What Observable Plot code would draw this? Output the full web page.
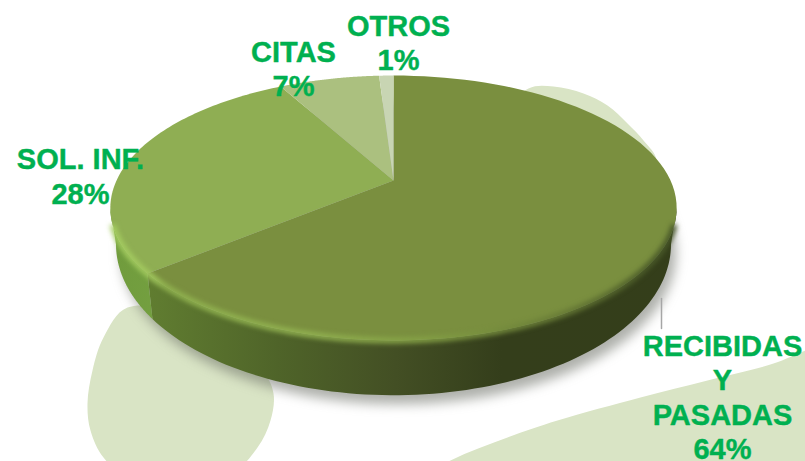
<!DOCTYPE html>
<html>
<head>
<meta charset="utf-8">
<script src="https://cdn.jsdelivr.net/npm/d3@7"></script>
<script src="https://cdn.jsdelivr.net/npm/@observablehq/plot@0.6"></script>
<style>
html,body{margin:0;padding:0;background:#fff}
svg{display:block}
</style>
</head>
<body>
<div id="chart"></div>
<script>
// Data
const categories = ["RECIBIDAS\nY\nPASADAS", "SOL. INF.", "CITAS", "OTROS"];
const shares = [64, 28, 7, 1];

// Styles
const faceColors = ["#7a8f3f", "#8fae53", "#abc07f", "#c8d5b3"];
const labelColor = "#00b050";
const blobColor = "#d9e4c5";

// Layout
const W = 805, H = 461;
const labelX = [722, 80, 293, 398];
const labelY = [396, 175, 67.5, 41.5];
const cx = 393, cy = 180, R = 277, persp = -0.2075, tilt = 89.4;

// The circular pie seen in perspective, with its lower rim below it
const rim = (a) => {
  const u = Math.sin(a), v = -Math.cos(a), d = 1 + persp * v;
  return [cx + R * u / d, (cy + tilt * v) / d];
};
const lower = ([x, y]) => [cx + 0.98 * (x - cx), 250 + 1.14 * (y - 213)];
const arc = (a0, a1, n = 90) => d3.range(n + 1).map(i => rim(a0 + (a1 - a0) * i / n));

const slices = d3.pie().sort(null)(shares);
const deg = Math.PI / 180;
const frontStart = 102 * deg, frontEnd = 258 * deg;

const face = s => [[cx, cy], ...arc(s.startAngle, s.endAngle), [cx, cy]];
const side = (a0, a1) => {
  const top = arc(a0, a1);
  return [...top, ...top.slice().reverse().map(lower)];
};
const boundary = slices[0].endAngle;
const wholeLower = arc(0, 2 * Math.PI, 180).map(lower);
const frontArc = arc(109 * deg, 251 * deg, 150);

// Decorative background shapes
const blobs = [
  [[127,307],[103,337],[92,370],[87,403],[90,430],[103,457],[130,478],[233,470],[257,447],[270,420],[273,393],[262,370],[200,320]],
  [[500,120],[528,88],[553,86],[583,93],[607,105],[627,123],[643,140],[656,160],[640,200],[560,200]],
  [[850,335],[805,350],[773,363],[707,380],[640,397],[557,420],[507,437],[450,460],[400,490],[850,520]]
];

const defs = () => {
  const d = d3.create("svg:defs");
  const grad = (id, stops) => {
    const g = d.append("linearGradient").attr("id", id)
      .attr("gradientUnits", "userSpaceOnUse")
      .attr("x1", 100).attr("x2", 690).attr("y1", 0).attr("y2", 0);
    stops.forEach(([o, c]) => g.append("stop").attr("offset", o).attr("stop-color", c));
  };
  grad("sideBig", [[0, "#64842f"], [0.1, "#5f7b30"], [0.3, "#4f6429"], [0.5, "#434f24"], [0.68, "#343e1b"], [1, "#343e1a"]]);
  grad("sideSmall", [[0, "#6f9a3c"], [0.1, "#74a040"], [1, "#74a040"]]);
  grad("bevel", [[0, "#a6cf62"], [0.09, "#a2c95e"], [0.11, "#90b24f"], [0.35, "#92b251"], [0.55, "#84a045"], [0.78, "#677a36"], [0.93, "#4a5a28"], [1, "#46552a"]]);
  return d.node();
};

const polygon = (pts, opts) => Plot.line(pts, {x: d => d[0], y: d => d[1], strokeWidth: 0, stroke: "none", ...opts});

const labels = categories.map((c, i) => ({
  text: c + "\n" + shares[i] + "%", x: labelX[i], y: labelY[i]
}));

const plot = Plot.plot({
  width: W, height: H, margin: 0,
  x: {domain: [0, W], range: [0, W], axis: null},
  y: {domain: [0, H], range: [0, H], axis: null},
  style: {background: "#fff"},
  marks: [
    defs,
    ...blobs.map(b => polygon(b, {fill: blobColor, curve: "catmull-rom-closed"})),
    polygon(wholeLower.map(([x, y]) => [x + 5, y + 9]), {fill: "#6c6f66", fillOpacity: 0.55, imageFilter: "blur(6px)"}),
    polygon(side(frontStart, boundary), {fill: "url(#sideBig)"}),
    polygon(side(boundary, frontEnd), {fill: "url(#sideSmall)"}),
    ...slices.map((s, i) => polygon(face(s), {fill: faceColors[i]})),
    Plot.line(frontArc, {x: d => d[0], y: d => d[1], stroke: "url(#bevel)", strokeWidth: 6, strokeLinecap: "butt", imageFilter: "blur(2.5px)"}),
    Plot.line([[661, 298], [661, 328]], {x: d => d[0], y: d => d[1], stroke: "#a6a6a6", strokeWidth: 1.5}),
    Plot.text(labels, {
      x: "x", y: "y", text: "text", fill: labelColor, stroke: labelColor, strokeWidth: 0.4,
      fontFamily: "Liberation Sans", fontWeight: "bold", fontSize: 29, lineHeight: 1.19,
      textAnchor: "middle", lineAnchor: "middle"
    })
  ]
});
document.getElementById("chart").append(plot);
</script>
</body>
</html>
